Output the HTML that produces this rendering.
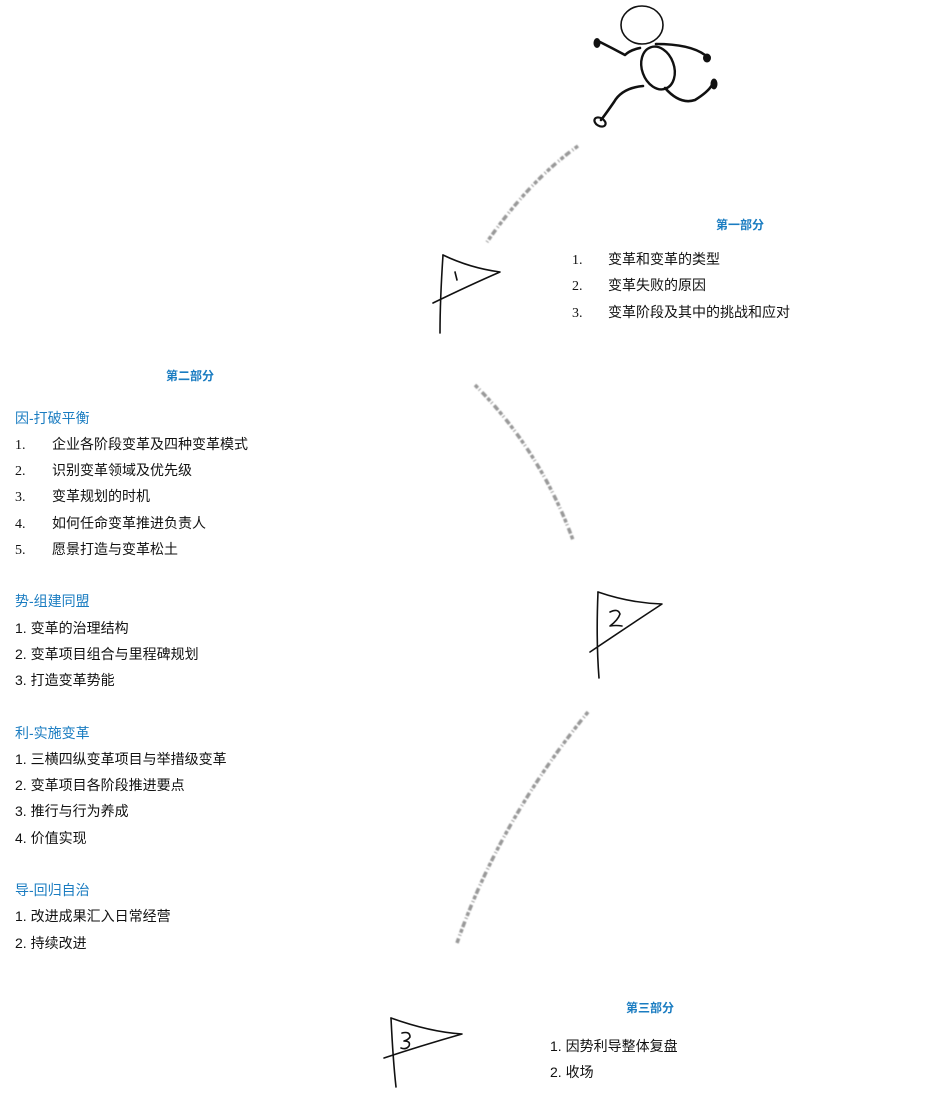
<!DOCTYPE html>
<html><head><meta charset="utf-8"><style>
body{margin:0;background:#fff;width:927px;height:1118px;position:relative;overflow:hidden;font-family:"Liberation Sans","Noto Sans CJK SC",sans-serif;font-size:14px;color:#111}
.t{position:absolute;white-space:nowrap;line-height:18px}
.h{color:#1a7cc1;font-weight:bold;font-size:12px}
.b{color:#1a7cc1}
.n{font-family:"Liberation Serif",serif;margin-top:2px}
svg{position:absolute;left:0;top:0}
</style></head><body>
<svg width="927" height="1118" viewBox="0 0 927 1118">
<defs><filter id="bl"><feGaussianBlur stdDeviation="0.5"/></filter></defs>
<g fill="none" stroke="#999" stroke-width="3.5" stroke-dasharray="4 2 1 3 6 2" filter="url(#bl)" stroke-linecap="butt">
<path d="M578 146 Q530 180 487 242"/>
<path d="M475 385 Q540 450 573 540"/>
<path d="M588 712 Q500 820 457 943"/>
</g>
<g fill="none" stroke="#111" stroke-width="1.6" stroke-linecap="round" stroke-linejoin="round">
<path d="M443 255 Q440 300 440 333"/>
<path d="M443 255 Q470 268 500 272 Q470 285 433 303"/>
<path d="M455 272 l2 8"/>
<path d="M598 592 Q596 640 599 678"/>
<path d="M598 592 Q630 603 662 604 Q630 625 590 652"/>
<path d="M610 612 q8 -4 10 2 q-2 6 -10 12 q6 -1 12 0"/>
<path d="M391 1018 Q393 1060 396 1087"/>
<path d="M391 1018 Q430 1032 462 1034 Q420 1046 384 1058"/>
<path d="M402 1033 q8 -2 8 4 q-2 3 -6 4 q7 0 5 5 q-3 4 -8 2"/>
<ellipse cx="642" cy="25" rx="21" ry="19"/>
<ellipse cx="658" cy="68" rx="16" ry="22" transform="rotate(-20 658 68)" stroke-width="2.4"/>
<path d="M640 48 Q630 50 625 55 Q612 48 600 42" stroke-width="2.6"/>
<path d="M656 44 Q690 44 705 55" stroke-width="2.6"/>
<path d="M643 86 Q622 88 614 102 Q605 115 601 120" stroke-width="2.6"/>
<path d="M665 88 Q680 105 695 100 Q708 92 712 85" stroke-width="2.6"/>
</g>
<g fill="#111">
<ellipse cx="597" cy="43" rx="3.5" ry="5"/>
<ellipse cx="707" cy="58" rx="4" ry="4.5"/>
<ellipse cx="714" cy="84" rx="3.5" ry="5.5"/>
</g>
<ellipse cx="600" cy="122" rx="6" ry="4" fill="none" stroke="#111" stroke-width="2.2" transform="rotate(30 600 122)"/>
</svg>

<div class="t h" style="left:716px;top:216px">第一部分</div>
<div class="t n" style="left:572px;top:250px">1.</div><div class="t" style="left:608px;top:250px">变革和变革的类型</div>
<div class="t n" style="left:572px;top:276px">2.</div><div class="t" style="left:608px;top:276px">变革失败的原因</div>
<div class="t n" style="left:572px;top:303px">3.</div><div class="t" style="left:608px;top:303px">变革阶段及其中的挑战和应对</div>

<div class="t h" style="left:166px;top:367px">第二部分</div>
<div class="t b" style="left:15px;top:409px">因-打破平衡</div>
<div class="t n" style="left:15px;top:435px">1.</div><div class="t" style="left:52px;top:435px">企业各阶段变革及四种变革模式</div>
<div class="t n" style="left:15px;top:461px">2.</div><div class="t" style="left:52px;top:461px">识别变革领域及优先级</div>
<div class="t n" style="left:15px;top:487px">3.</div><div class="t" style="left:52px;top:487px">变革规划的时机</div>
<div class="t n" style="left:15px;top:514px">4.</div><div class="t" style="left:52px;top:514px">如何任命变革推进负责人</div>
<div class="t n" style="left:15px;top:540px">5.</div><div class="t" style="left:52px;top:540px">愿景打造与变革松土</div>

<div class="t b" style="left:15px;top:592px">势-组建同盟</div>
<div class="t" style="left:15px;top:619px">1. 变革的治理结构</div>
<div class="t" style="left:15px;top:645px">2. 变革项目组合与里程碑规划</div>
<div class="t" style="left:15px;top:671px">3. 打造变革势能</div>

<div class="t b" style="left:15px;top:724px">利-实施变革</div>
<div class="t" style="left:15px;top:750px">1. 三横四纵变革项目与举措级变革</div>
<div class="t" style="left:15px;top:776px">2. 变革项目各阶段推进要点</div>
<div class="t" style="left:15px;top:802px">3. 推行与行为养成</div>
<div class="t" style="left:15px;top:829px">4. 价值实现</div>

<div class="t b" style="left:15px;top:881px">导-回归自治</div>
<div class="t" style="left:15px;top:907px">1. 改进成果汇入日常经营</div>
<div class="t" style="left:15px;top:934px">2. 持续改进</div>

<div class="t h" style="left:626px;top:999px">第三部分</div>
<div class="t" style="left:550px;top:1037px">1. 因势利导整体复盘</div>
<div class="t" style="left:550px;top:1063px">2. 收场</div>
</body></html>
